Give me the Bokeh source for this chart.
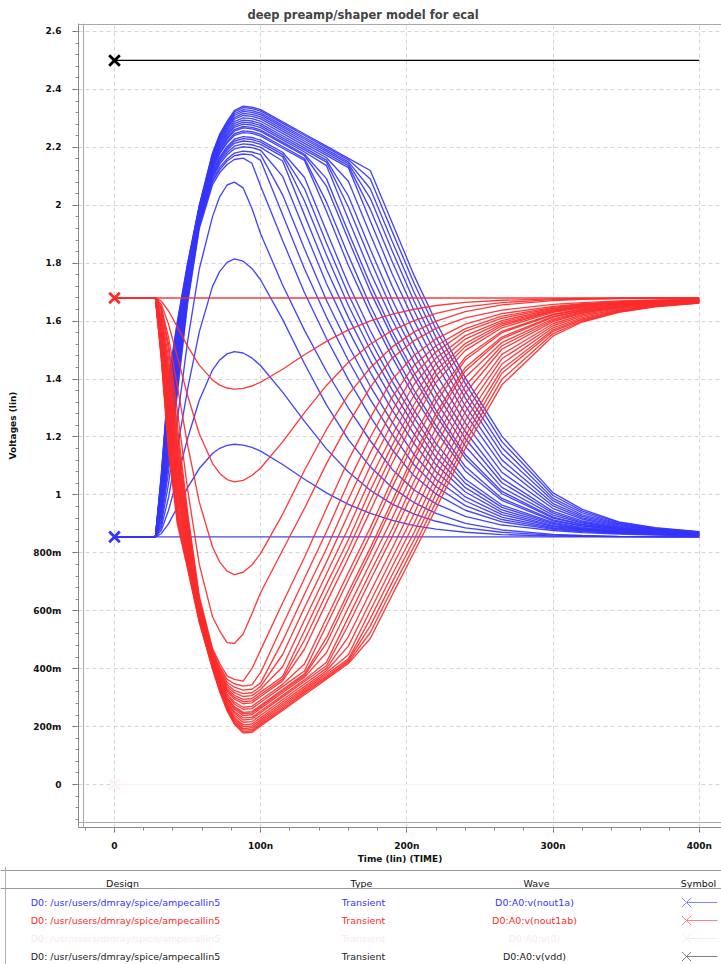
from bokeh.plotting import figure
from bokeh.models import ColumnDataSource, Range1d, FixedTicker, Span, CustomJSTickFormatter
from bokeh.embed import file_html
from bokeh.resources import INLINE
from bokeh.core.properties import value

# ---------------- data ----------------
TITLE = "deep preamp/shaper model for ecal"
X_LABEL = "Time (lin) (TIME)"
Y_LABEL = "Voltages (lin)"

# sample times (ns) shared by every waveform of the sweep
TIME_NS = [0, 28, 32, 37, 43, 50, 58, 67, 72, 77, 82, 88, 94, 100, 115, 130, 145, 160, 175,
           190, 205, 220, 240, 265, 300, 320, 345, 370, 400]

# D0:A0:v(nout1a)  (blue family, volts)
NOUT1A = [
    [0.855, 0.855, 0.855, 0.855, 0.855, 0.855, 0.855, 0.855, 0.855, 0.855, 0.855, 0.855, 0.855, 0.855, 0.855, 0.855, 0.855, 0.855, 0.855, 0.855, 0.855, 0.855, 0.855, 0.855, 0.855, 0.855, 0.855, 0.855, 0.855],
    [0.855, 0.855, 0.866, 0.901, 0.957, 1.025, 1.091, 1.143, 1.161, 1.171, 1.175, 1.172, 1.164, 1.151, 1.105, 1.054, 1.007, 0.967, 0.936, 0.912, 0.894, 0.882, 0.871, 0.863, 0.858, 0.857, 0.856, 0.855, 0.855],
    [0.855, 0.855, 0.877, 0.947, 1.059, 1.195, 1.327, 1.431, 1.466, 1.487, 1.495, 1.490, 1.473, 1.446, 1.355, 1.254, 1.159, 1.079, 1.016, 0.968, 0.934, 0.909, 0.886, 0.871, 0.861, 0.858, 0.856, 0.856, 0.855],
    [0.855, 0.855, 0.888, 0.992, 1.161, 1.365, 1.563, 1.719, 1.772, 1.803, 1.815, 1.807, 1.782, 1.742, 1.606, 1.453, 1.311, 1.191, 1.097, 1.025, 0.973, 0.936, 0.902, 0.879, 0.864, 0.860, 0.857, 0.856, 0.855],
    [0.855, 0.855, 0.898, 1.040, 1.260, 1.530, 1.780, 1.960, 2.030, 2.070, 2.080, 2.060, 1.990, 1.901, 1.725, 1.568, 1.427, 1.300, 1.187, 1.088, 1.017, 0.969, 0.926, 0.896, 0.877, 0.870, 0.865, 0.861, 0.859],
    [0.855, 0.855, 0.910, 1.080, 1.350, 1.660, 1.920, 2.070, 2.113, 2.141, 2.158, 2.163, 2.145, 2.066, 1.878, 1.698, 1.540, 1.398, 1.270, 1.156, 1.065, 1.003, 0.947, 0.907, 0.881, 0.873, 0.867, 0.863, 0.859],
    [0.855, 0.855, 0.923, 1.107, 1.371, 1.672, 1.927, 2.079, 2.123, 2.153, 2.171, 2.177, 2.174, 2.155, 1.967, 1.780, 1.614, 1.464, 1.329, 1.209, 1.103, 1.028, 0.963, 0.915, 0.884, 0.875, 0.869, 0.864, 0.860],
    [0.855, 0.855, 0.935, 1.129, 1.388, 1.681, 1.932, 2.087, 2.131, 2.160, 2.180, 2.187, 2.184, 2.175, 2.036, 1.849, 1.672, 1.516, 1.375, 1.251, 1.138, 1.053, 0.979, 0.923, 0.887, 0.878, 0.870, 0.865, 0.861],
    [0.855, 0.855, 0.944, 1.148, 1.404, 1.690, 1.937, 2.094, 2.142, 2.174, 2.195, 2.202, 2.199, 2.190, 2.100, 1.913, 1.730, 1.569, 1.423, 1.293, 1.177, 1.079, 0.993, 0.932, 0.891, 0.880, 0.872, 0.866, 0.861],
    [0.855, 0.855, 0.953, 1.166, 1.417, 1.697, 1.941, 2.099, 2.149, 2.182, 2.204, 2.212, 2.209, 2.200, 2.153, 1.966, 1.779, 1.613, 1.463, 1.329, 1.209, 1.104, 1.010, 0.940, 0.894, 0.882, 0.873, 0.866, 0.862],
    [0.855, 0.855, 0.960, 1.181, 1.429, 1.704, 1.945, 2.105, 2.156, 2.190, 2.214, 2.222, 2.219, 2.210, 2.168, 2.014, 1.828, 1.654, 1.501, 1.362, 1.239, 1.128, 1.025, 0.948, 0.898, 0.883, 0.873, 0.867, 0.862],
    [0.855, 0.855, 0.967, 1.195, 1.440, 1.710, 1.949, 2.109, 2.162, 2.197, 2.221, 2.230, 2.227, 2.218, 2.176, 2.057, 1.870, 1.692, 1.534, 1.392, 1.266, 1.153, 1.040, 0.957, 0.902, 0.885, 0.875, 0.868, 0.863],
    [0.855, 0.855, 0.974, 1.207, 1.450, 1.716, 1.952, 2.114, 2.167, 2.203, 2.228, 2.237, 2.234, 2.225, 2.183, 2.096, 1.910, 1.728, 1.567, 1.422, 1.292, 1.177, 1.054, 0.965, 0.905, 0.888, 0.876, 0.868, 0.863],
    [0.855, 0.855, 0.985, 1.230, 1.467, 1.726, 1.957, 2.122, 2.178, 2.215, 2.241, 2.251, 2.248, 2.239, 2.197, 2.155, 1.979, 1.792, 1.626, 1.475, 1.339, 1.220, 1.082, 0.981, 0.910, 0.892, 0.878, 0.870, 0.864],
    [0.855, 0.855, 0.990, 1.240, 1.475, 1.730, 1.960, 2.125, 2.182, 2.220, 2.247, 2.257, 2.254, 2.245, 2.203, 2.161, 2.011, 1.827, 1.652, 1.499, 1.361, 1.238, 1.098, 0.988, 0.914, 0.893, 0.880, 0.871, 0.865],
    [0.855, 0.855, 0.999, 1.258, 1.489, 1.738, 1.965, 2.131, 2.189, 2.228, 2.256, 2.267, 2.264, 2.255, 2.213, 2.171, 2.066, 1.881, 1.702, 1.544, 1.402, 1.274, 1.126, 1.004, 0.920, 0.897, 0.882, 0.872, 0.865],
    [0.855, 0.855, 1.003, 1.267, 1.496, 1.742, 1.967, 2.134, 2.193, 2.233, 2.261, 2.272, 2.269, 2.260, 2.218, 2.176, 2.092, 1.907, 1.727, 1.566, 1.421, 1.292, 1.139, 1.012, 0.923, 0.898, 0.883, 0.872, 0.866],
    [0.855, 0.855, 1.011, 1.282, 1.508, 1.748, 1.970, 2.139, 2.199, 2.239, 2.269, 2.280, 2.277, 2.268, 2.226, 2.184, 2.137, 1.952, 1.768, 1.604, 1.456, 1.323, 1.168, 1.026, 0.930, 0.903, 0.884, 0.873, 0.866],
    [0.855, 0.855, 1.018, 1.296, 1.519, 1.754, 1.974, 2.144, 2.205, 2.245, 2.275, 2.287, 2.284, 2.275, 2.233, 2.191, 2.149, 1.994, 1.811, 1.637, 1.488, 1.352, 1.194, 1.042, 0.937, 0.906, 0.886, 0.875, 0.867],
    [0.855, 0.855, 1.024, 1.308, 1.529, 1.760, 1.977, 2.149, 2.210, 2.251, 2.282, 2.294, 2.291, 2.282, 2.240, 2.198, 2.156, 2.032, 1.848, 1.673, 1.518, 1.379, 1.219, 1.057, 0.943, 0.910, 0.888, 0.876, 0.868],
    [0.855, 0.855, 1.033, 1.326, 1.542, 1.768, 1.981, 2.154, 2.216, 2.257, 2.289, 2.302, 2.299, 2.290, 2.248, 2.206, 2.164, 2.083, 1.899, 1.720, 1.561, 1.417, 1.248, 1.078, 0.953, 0.916, 0.891, 0.878, 0.868],
    [0.855, 0.855, 1.040, 1.341, 1.554, 1.774, 1.985, 2.160, 2.222, 2.264, 2.297, 2.310, 2.307, 2.298, 2.256, 2.214, 2.172, 2.130, 1.946, 1.763, 1.600, 1.453, 1.280, 1.101, 0.962, 0.921, 0.894, 0.879, 0.870],
    [0.855, 0.855, 1.047, 1.355, 1.565, 1.780, 1.989, 2.164, 2.227, 2.269, 2.303, 2.317, 2.314, 2.305, 2.263, 2.221, 2.179, 2.137, 1.986, 1.805, 1.635, 1.484, 1.307, 1.121, 0.970, 0.926, 0.897, 0.881, 0.870],
    [0.855, 0.855, 1.054, 1.368, 1.575, 1.786, 1.992, 2.169, 2.233, 2.275, 2.310, 2.324, 2.321, 2.312, 2.270, 2.228, 2.186, 2.144, 2.024, 1.842, 1.668, 1.514, 1.334, 1.143, 0.980, 0.931, 0.900, 0.882, 0.871],
    [0.855, 0.855, 1.060, 1.379, 1.584, 1.791, 1.995, 2.173, 2.237, 2.280, 2.316, 2.330, 2.327, 2.318, 2.276, 2.234, 2.192, 2.150, 2.057, 1.875, 1.699, 1.543, 1.357, 1.164, 0.988, 0.938, 0.902, 0.883, 0.872],
    [0.855, 0.855, 1.065, 1.390, 1.592, 1.796, 1.997, 2.177, 2.242, 2.286, 2.322, 2.337, 2.334, 2.325, 2.283, 2.241, 2.199, 2.157, 2.091, 1.909, 1.730, 1.571, 1.384, 1.184, 0.998, 0.944, 0.905, 0.885, 0.872],
    [0.855, 0.855, 1.070, 1.400, 1.600, 1.800, 2.000, 2.180, 2.246, 2.290, 2.327, 2.342, 2.339, 2.330, 2.288, 2.246, 2.204, 2.162, 2.120, 1.939, 1.757, 1.596, 1.404, 1.203, 1.007, 0.950, 0.907, 0.887, 0.873],
]

# D0:A0:v(nout1ab)  (red family, volts)
NOUT1AB = [
    [1.680, 1.680, 1.680, 1.680, 1.680, 1.680, 1.680, 1.680, 1.680, 1.680, 1.680, 1.680, 1.680, 1.680, 1.680, 1.680, 1.680, 1.680, 1.680, 1.680, 1.680, 1.680, 1.680, 1.680, 1.680, 1.680, 1.680, 1.680, 1.680],
    [1.680, 1.680, 1.669, 1.635, 1.580, 1.513, 1.448, 1.397, 1.379, 1.369, 1.365, 1.368, 1.376, 1.389, 1.434, 1.484, 1.530, 1.570, 1.601, 1.624, 1.641, 1.654, 1.665, 1.672, 1.677, 1.678, 1.679, 1.680, 1.680],
    [1.680, 1.680, 1.658, 1.589, 1.477, 1.343, 1.211, 1.109, 1.074, 1.053, 1.045, 1.050, 1.067, 1.093, 1.183, 1.284, 1.378, 1.458, 1.520, 1.568, 1.602, 1.627, 1.649, 1.664, 1.674, 1.677, 1.679, 1.679, 1.680],
    [1.680, 1.680, 1.648, 1.543, 1.375, 1.173, 0.975, 0.821, 0.768, 0.737, 0.725, 0.733, 0.758, 0.798, 0.933, 1.085, 1.226, 1.346, 1.439, 1.511, 1.563, 1.600, 1.633, 1.656, 1.671, 1.675, 1.678, 1.679, 1.680],
    [1.680, 1.680, 1.645, 1.520, 1.290, 1.020, 0.760, 0.580, 0.530, 0.490, 0.487, 0.520, 0.590, 0.663, 0.809, 0.954, 1.108, 1.246, 1.372, 1.473, 1.533, 1.575, 1.611, 1.638, 1.658, 1.664, 1.670, 1.673, 1.675],
    [1.680, 1.680, 1.640, 1.500, 1.240, 0.940, 0.650, 0.470, 0.418, 0.375, 0.363, 0.357, 0.400, 0.465, 0.627, 0.785, 0.953, 1.120, 1.267, 1.399, 1.482, 1.539, 1.590, 1.626, 1.651, 1.660, 1.667, 1.671, 1.674],
    [1.680, 1.680, 1.626, 1.471, 1.212, 0.924, 0.643, 0.464, 0.408, 0.363, 0.348, 0.340, 0.344, 0.387, 0.551, 0.712, 0.873, 1.044, 1.199, 1.338, 1.448, 1.515, 1.574, 1.617, 1.647, 1.658, 1.665, 1.670, 1.674],
    [1.680, 1.680, 1.614, 1.446, 1.188, 0.910, 0.636, 0.459, 0.401, 0.353, 0.336, 0.326, 0.329, 0.351, 0.495, 0.658, 0.814, 0.985, 1.146, 1.291, 1.416, 1.494, 1.565, 1.610, 1.644, 1.656, 1.664, 1.669, 1.673],
    [1.680, 1.680, 1.604, 1.425, 1.167, 0.898, 0.631, 0.455, 0.395, 0.345, 0.325, 0.314, 0.317, 0.339, 0.449, 0.611, 0.768, 0.933, 1.100, 1.249, 1.382, 1.473, 1.550, 1.602, 1.641, 1.654, 1.663, 1.669, 1.673],
    [1.680, 1.680, 1.595, 1.406, 1.149, 0.888, 0.626, 0.451, 0.389, 0.338, 0.317, 0.304, 0.307, 0.329, 0.407, 0.568, 0.727, 0.886, 1.055, 1.207, 1.345, 1.453, 1.538, 1.596, 1.638, 1.652, 1.662, 1.668, 1.672],
    [1.680, 1.680, 1.586, 1.390, 1.133, 0.879, 0.622, 0.448, 0.384, 0.331, 0.308, 0.294, 0.297, 0.319, 0.373, 0.531, 0.691, 0.845, 1.016, 1.172, 1.313, 1.431, 1.523, 1.590, 1.635, 1.650, 1.661, 1.667, 1.672],
    [1.680, 1.680, 1.579, 1.374, 1.118, 0.870, 0.618, 0.445, 0.380, 0.326, 0.301, 0.286, 0.289, 0.311, 0.365, 0.499, 0.659, 0.813, 0.980, 1.142, 1.286, 1.412, 1.512, 1.584, 1.633, 1.647, 1.659, 1.667, 1.671],
    [1.680, 1.680, 1.572, 1.361, 1.105, 0.862, 0.614, 0.442, 0.375, 0.321, 0.295, 0.279, 0.282, 0.304, 0.358, 0.468, 0.628, 0.783, 0.945, 1.110, 1.257, 1.389, 1.499, 1.577, 1.630, 1.646, 1.658, 1.666, 1.671],
    [1.680, 1.680, 1.560, 1.336, 1.081, 0.849, 0.608, 0.437, 0.369, 0.313, 0.285, 0.267, 0.270, 0.292, 0.346, 0.416, 0.574, 0.732, 0.887, 1.053, 1.205, 1.342, 1.476, 1.565, 1.624, 1.642, 1.656, 1.664, 1.670],
    [1.680, 1.680, 1.555, 1.325, 1.070, 0.842, 0.605, 0.435, 0.365, 0.307, 0.278, 0.260, 0.262, 0.284, 0.338, 0.392, 0.549, 0.707, 0.862, 1.027, 1.182, 1.320, 1.466, 1.560, 1.622, 1.640, 1.655, 1.663, 1.669],
    [1.680, 1.680, 1.545, 1.305, 1.051, 0.831, 0.600, 0.431, 0.359, 0.300, 0.269, 0.249, 0.252, 0.274, 0.328, 0.382, 0.507, 0.665, 0.817, 0.980, 1.141, 1.283, 1.440, 1.545, 1.616, 1.637, 1.652, 1.662, 1.669],
    [1.680, 1.680, 1.541, 1.296, 1.042, 0.826, 0.598, 0.429, 0.356, 0.297, 0.265, 0.245, 0.247, 0.269, 0.323, 0.377, 0.488, 0.646, 0.799, 0.959, 1.121, 1.266, 1.428, 1.539, 1.614, 1.635, 1.651, 1.662, 1.669],
    [1.680, 1.680, 1.533, 1.279, 1.025, 0.817, 0.593, 0.426, 0.353, 0.294, 0.260, 0.238, 0.241, 0.263, 0.317, 0.371, 0.455, 0.611, 0.765, 0.920, 1.084, 1.231, 1.406, 1.526, 1.608, 1.632, 1.650, 1.661, 1.669],
    [1.680, 1.680, 1.525, 1.264, 1.011, 0.809, 0.589, 0.423, 0.348, 0.287, 0.252, 0.230, 0.232, 0.254, 0.308, 0.362, 0.422, 0.578, 0.733, 0.883, 1.048, 1.199, 1.377, 1.515, 1.603, 1.629, 1.648, 1.660, 1.668],
    [1.680, 1.680, 1.519, 1.250, 0.997, 0.801, 0.586, 0.420, 0.345, 0.284, 0.247, 0.223, 0.226, 0.248, 0.302, 0.356, 0.410, 0.551, 0.706, 0.855, 1.018, 1.172, 1.352, 1.503, 1.598, 1.627, 1.647, 1.659, 1.667],
    [1.680, 1.680, 1.509, 1.231, 0.979, 0.790, 0.581, 0.416, 0.340, 0.278, 0.239, 0.215, 0.217, 0.239, 0.293, 0.347, 0.401, 0.511, 0.665, 0.816, 0.973, 1.133, 1.317, 1.485, 1.591, 1.622, 1.644, 1.657, 1.666],
    [1.680, 1.680, 1.501, 1.215, 0.963, 0.781, 0.577, 0.413, 0.336, 0.273, 0.232, 0.206, 0.209, 0.231, 0.285, 0.339, 0.393, 0.478, 0.631, 0.783, 0.936, 1.097, 1.287, 1.470, 1.584, 1.617, 1.641, 1.656, 1.665],
    [1.680, 1.680, 1.494, 1.199, 0.948, 0.772, 0.573, 0.410, 0.332, 0.269, 0.226, 0.200, 0.202, 0.224, 0.278, 0.332, 0.386, 0.448, 0.601, 0.753, 0.902, 1.063, 1.257, 1.452, 1.577, 1.612, 1.638, 1.654, 1.664],
    [1.680, 1.680, 1.487, 1.186, 0.935, 0.765, 0.569, 0.407, 0.329, 0.265, 0.221, 0.193, 0.196, 0.218, 0.272, 0.326, 0.380, 0.434, 0.573, 0.725, 0.871, 1.032, 1.229, 1.434, 1.570, 1.608, 1.636, 1.653, 1.664],
    [1.680, 1.680, 1.481, 1.173, 0.922, 0.758, 0.566, 0.405, 0.326, 0.261, 0.216, 0.188, 0.190, 0.212, 0.266, 0.320, 0.374, 0.428, 0.548, 0.699, 0.846, 1.003, 1.203, 1.420, 1.565, 1.604, 1.634, 1.652, 1.663],
    [1.680, 1.680, 1.475, 1.161, 0.911, 0.751, 0.563, 0.402, 0.323, 0.258, 0.212, 0.182, 0.185, 0.207, 0.261, 0.315, 0.369, 0.423, 0.525, 0.676, 0.823, 0.976, 1.182, 1.399, 1.557, 1.600, 1.632, 1.651, 1.662],
    [1.680, 1.680, 1.470, 1.150, 0.900, 0.745, 0.560, 0.400, 0.320, 0.255, 0.208, 0.178, 0.180, 0.202, 0.256, 0.310, 0.364, 0.418, 0.504, 0.655, 0.803, 0.953, 1.161, 1.380, 1.549, 1.597, 1.630, 1.649, 1.662],
]

# D0:A0:v(vdd) and the (nearly invisible) zero trace
VDD_TIME = [0, 400]
VDD_V = [2.5, 2.5]
ZERO_TIME = [0, 400]
ZERO_V = [0.0, 0.0]

Y_TICKS = [0, 0.2, 0.4, 0.6, 0.8, 1.0, 1.2, 1.4, 1.6, 1.8, 2.0, 2.2, 2.4, 2.6]
Y_TICK_LABELS = ["0", "200m", "400m", "600m", "800m", "1", "1.2", "1.4", "1.6", "1.8", "2", "2.2", "2.4", "2.6"]
X_TICKS = [0, 100, 200, 300, 400]
X_TICK_LABELS = ["0", "100n", "200n", "300n", "400n"]

LEGEND_HEADERS = ["Design", "Type", "Wave", "Symbol"]
LEGEND_DESIGN = ["D0: /usr/users/dmray/spice/ampecallin5", "D0: /usr/users/dmray/spice/ampecallin5",
                 "D0: /usr/users/dmray/spice/ampecallin5", "D0: /usr/users/dmray/spice/ampecallin5"]
LEGEND_TYPE = ["Transient", "Transient", "Transient", "Transient"]
LEGEND_WAVE = ["D0:A0:v(nout1a)", "D0:A0:v(nout1ab)", "D0:A0:v(0)", "D0:A0:v(vdd)"]

# ---------------- styles ----------------
BLUE = "#3535fa"
RED = "#fb2c2c"
BLACK = "#000000"
FAINT = "#fdf1f1"
LEGEND_TEXT_COLORS = [BLUE, RED, "#fbeaea", "#222222"]
LEGEND_SYMBOL_COLORS = ["#8585ff", "#ff8585", "#fbeaea", "#808080"]
FONT = "DejaVu Sans"

# ---------------- main plot (page has no margin: canvas starts at 0,0) ----------------
p = figure(width=721, height=866, output_backend="svg", toolbar_location=None,
           x_range=Range1d(-24.63, 415.24), y_range=Range1d(-0.1483, 2.6276),
           min_border_left=78, min_border_right=0, min_border_top=23, min_border_bottom=38)
p.background_fill_color = "white"
p.border_fill_color = "white"
p.outline_line_color = None

p.title.text = TITLE
p.title.text_font = FONT
p.title.text_font_style = "bold"
p.title.text_font_size = "11.5px"
p.title.align = "left"
p.title.offset = 169
p.title.standoff = 3

fmt_code = """
for (let i = 0; i < tvals.length; i++) {
  if (Math.abs(tvals[i] - tick) < 1e-6) { return tlabels[i]; }
}
return "";
"""
x_minor = [t for t in range(-20, 420, 20)]
y_minor = [round(-0.12 + 0.04 * i, 2) for i in range(70)]

p.xaxis.ticker = FixedTicker(ticks=X_TICKS, minor_ticks=x_minor)
p.yaxis.ticker = FixedTicker(ticks=Y_TICKS, minor_ticks=y_minor)
p.xaxis.formatter = CustomJSTickFormatter(args=dict(tvals=X_TICKS, tlabels=X_TICK_LABELS), code=fmt_code)
p.yaxis.formatter = CustomJSTickFormatter(args=dict(tvals=Y_TICKS, tlabels=Y_TICK_LABELS), code=fmt_code)
p.xgrid.ticker = FixedTicker(ticks=X_TICKS)
p.ygrid.ticker = FixedTicker(ticks=Y_TICKS)
for g in (p.xgrid, p.ygrid):
    g.grid_line_color = "#d6d6d6"
    g.grid_line_dash = "4 3"
    g.grid_line_width = 1

for ax in (p.xaxis, p.yaxis):
    ax.axis_line_color = "#8c8c8c"
    ax.major_tick_line_color = "#707070"
    ax.minor_tick_line_color = "#8c8c8c"
    ax.major_tick_in = 0
    ax.minor_tick_in = 0
    ax.minor_tick_out = 3
    ax.major_label_text_font = FONT
    ax.major_label_text_font_style = "bold"
    ax.major_label_text_font_size = "9px"
    ax.major_label_text_color = "#111111"
    ax.axis_label_text_font = FONT
    ax.axis_label_text_font_style = "bold"
    ax.axis_label_text_font_size = "9px"
    ax.axis_label_text_color = "#111111"

p.xaxis.axis_label = X_LABEL
p.yaxis.axis_label = Y_LABEL
p.xaxis.major_tick_out = 5
p.xaxis.major_label_standoff = 8
p.xaxis.axis_label_standoff = 0
p.yaxis.major_tick_out = 6
p.yaxis.major_label_standoff = 11
p.yaxis.axis_label_standoff = 12

# inner gray plot frame (top, left, bottom)
p.add_layout(Span(location=2.6241, dimension="width", line_color="#a8a8a8", line_width=1))
p.add_layout(Span(location=-21.21, dimension="height", line_color="#a8a8a8", line_width=1))
p.add_layout(Span(location=-0.131, dimension="width", line_color="#a8a8a8", line_width=1))

# traces
p.line(ZERO_TIME, ZERO_V, line_color=FAINT, line_width=1.2)
src_b = ColumnDataSource(dict(xs=[TIME_NS] * len(NOUT1A), ys=NOUT1A))
p.multi_line("xs", "ys", source=src_b, line_color=BLUE, line_width=1.35, line_alpha=0.92)
src_r = ColumnDataSource(dict(xs=[TIME_NS] * len(NOUT1AB), ys=NOUT1AB))
p.multi_line("xs", "ys", source=src_r, line_color=RED, line_width=1.35, line_alpha=0.92)
p.line(VDD_TIME, VDD_V, line_color=BLACK, line_width=1.3)

# start markers
mk = ColumnDataSource(dict(
    t=[ZERO_TIME[0], TIME_NS[0], TIME_NS[0], VDD_TIME[0]],
    v=[ZERO_V[0], NOUT1A[0][0], NOUT1AB[0][0], VDD_V[0]],
    c=[FAINT, BLUE, RED, BLACK],
))
p.scatter("t", "v", source=mk, marker="x", size=15, line_width=2.8, line_color="c")

# ---------------- legend table (separate root so its frame is not aligned to the plot) ----------------
lg = figure(width=721, height=98, output_backend="svg", toolbar_location=None,
            x_range=Range1d(0, 721), y_range=Range1d(0, 98),
            x_axis_location=None, y_axis_location=None,
            min_border_left=0, min_border_right=0, min_border_top=0, min_border_bottom=0)
lg.grid.visible = False
lg.outline_line_color = None
lg.background_fill_color = "white"
lg.border_fill_color = "white"

lg.add_layout(Span(location=94, dimension="width", line_color="#9a9a9a", line_width=1))
lg.add_layout(Span(location=5, dimension="height", line_color="#b0b0b0", line_width=1))
lg.add_layout(Span(location=76, dimension="width", line_color="#9a9a9a", line_width=1))

col_x = [122, 361, 536, 698]
lg.text(x=col_x, y=[81] * 4, text=LEGEND_HEADERS, text_align="center", text_baseline="middle",
        text_font=value(FONT), text_font_size="9.5px", text_color="#111111")

row_y = [62 - 18 * i for i in range(len(LEGEND_WAVE))]
rows = ColumnDataSource(dict(y=row_y, design=LEGEND_DESIGN, typ=LEGEND_TYPE, wave=LEGEND_WAVE,
                             c=LEGEND_TEXT_COLORS, sc=LEGEND_SYMBOL_COLORS,
                             xd=[125] * 4, xt=[363] * 4, xw=[534] * 4, xs=[686] * 4, xe=[717] * 4))
for field, xf in (("design", "xd"), ("typ", "xt"), ("wave", "xw")):
    lg.text(x=xf, y="y", text=field, source=rows, text_align="center", text_baseline="middle",
            text_font=value(FONT), text_font_size="9.5px", text_color="c")
lg.segment(x0="xs", y0="y", x1="xe", y1="y", source=rows, line_color="sc", line_width=1)
lg.scatter(x="xs", y="y", source=rows, marker="x", size=13, line_width=1, line_color="sc")

open("out.html", "w").write(file_html([p, lg], INLINE))
